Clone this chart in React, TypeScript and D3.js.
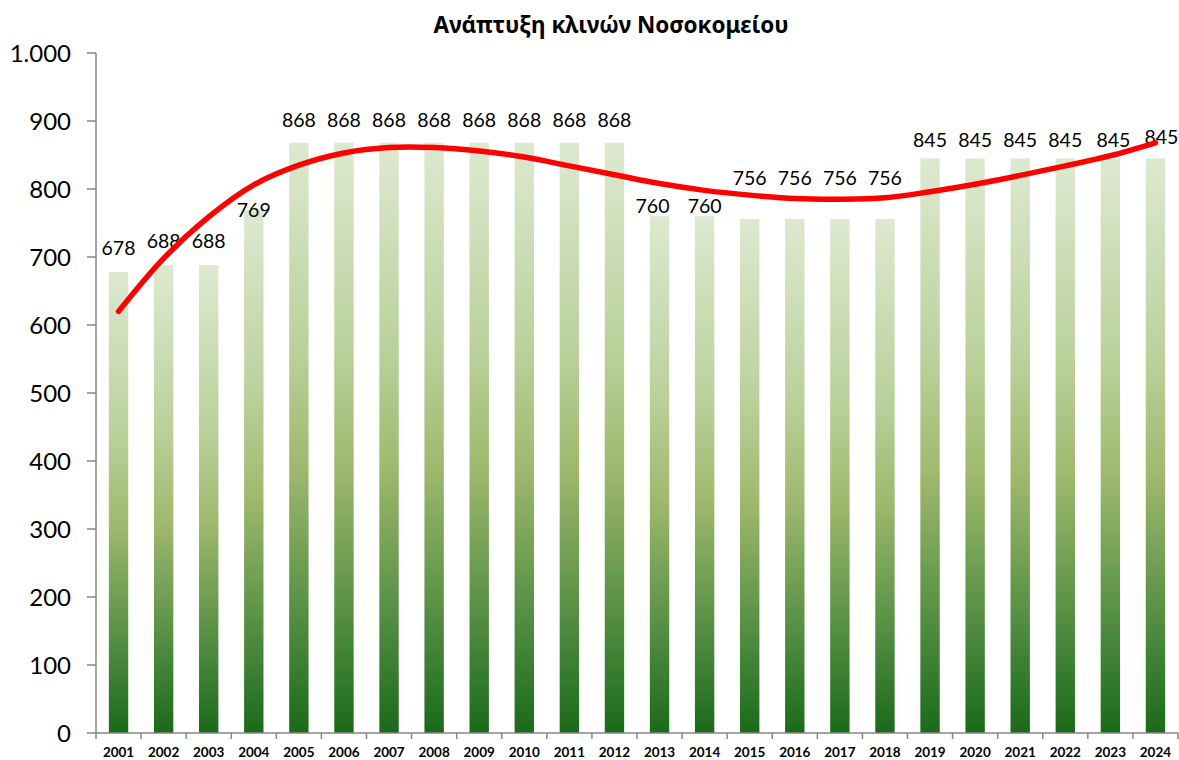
import * as d3 from "d3";

const years = ["2001","2002","2003","2004","2005","2006","2007","2008","2009","2010","2011","2012","2013","2014","2015","2016","2017","2018","2019","2020","2021","2022","2023","2024"];
const beds = [678,688,688,769,868,868,868,868,868,868,868,868,760,760,756,756,756,756,845,845,845,845,845,845];
// trendline values, one per year
const trend = [620,698,759,806,835,853,861,861,856,847,834,821,808,798,791,786,785,787,796,807,820,834,849,868];
const yTicks = [0,100,200,300,400,500,600,700,800,900,1000];
const title = "Ανάπτυξη κλινών Νοσοκομείου";

// data labels were nudged by hand in the original (px, baseline relative to bar top)
const labelDy = [-17,-17,-17,7,-16,-16,-16,-16,-16,-16,-16,-16,-3,-3,-34,-34,-34,-34,-11,-11,-11,-11,-11,-14];
const labelDx = [0,0,0,0,0,0,0,0,0,0,0,0,-7,0,0,0,0,0,0,0,0,0,3,6];

const width = 1179;
const height = 760;
const marginTop = 53;
const marginRight = 1;
const marginBottom = 27;
const marginLeft = 96;
const font = "Lato, 'Noto Sans', sans-serif";

const grLocale = d3.formatLocale({decimal: ",", thousands: ".", grouping: [3], currency: ["€", ""]});
const fmt = grLocale.format(",");

export default function App() {
  const x = d3.scaleBand(years, [marginLeft, width - marginRight]).paddingInner(0.57).paddingOuter(0.285);
  const y = d3.scaleLinear([0, 1000], [height - marginBottom, marginTop]);
  const step = x.step();
  const cx = (yr: string) => x(yr)! + x.bandwidth() / 2;

  const line = d3.line<number>((_, i) => cx(years[i]), v => y(v)).curve(d3.curveCatmullRom);
  const boundaries = d3.range(years.length + 1).map(i => marginLeft + i * step);

  return (
    <svg width={width} height={height} style={{position: "absolute", left: 0, top: 0, background: "#fff"}}>
      <defs>
        <linearGradient id="barGrad" x1="0" y1="0" x2="0" y2="1">
          <stop offset="0" stopColor="#dde9d0" />
          <stop offset="0.35" stopColor="#bad19b" />
          <stop offset="0.55" stopColor="#9fb96d" />
          <stop offset="0.78" stopColor="#5a9246" />
          <stop offset="1" stopColor="#1a6a1a" />
        </linearGradient>
      </defs>
      <text x={611} y={33} textAnchor="middle" fontFamily="'Noto Sans', sans-serif" fontWeight="bold" fontSize={22.5} fill="#000">{title}</text>

      {beds.map((v, i) => (
        <rect key={years[i]} x={x(years[i])} y={y(v)} width={x.bandwidth()} height={y(0) - y(v)} fill="url(#barGrad)" />
      ))}

      <g stroke="#868686" strokeWidth={1.5} fill="none">
        <line x1={marginLeft} x2={marginLeft} y1={y(1000)} y2={y(0)} />
        <line x1={marginLeft} x2={width - marginRight} y1={y(0)} y2={y(0)} />
        {yTicks.map(t => <line key={t} x1={marginLeft - 9} x2={marginLeft} y1={y(t)} y2={y(t)} />)}
        {boundaries.map((b, i) => <line key={i} x1={b} x2={b} y1={y(0)} y2={y(0) + 6} />)}
      </g>

      <g fontFamily={font} fontSize={24} fill="#000" textAnchor="end">
        {yTicks.map(t => <text key={t} x={71} y={y(t)} dy="0.36em">{fmt(t)}</text>)}
      </g>

      <g fontFamily={font} fontSize={13.5} fontWeight="bold" fill="#000" textAnchor="middle">
        {years.map(yr => <text key={yr} x={cx(yr)} y={757}>{yr}</text>)}
      </g>

      <g fontFamily={font} fontSize={19.5} fill="#000" textAnchor="middle">
        {beds.map((v, i) => <text key={years[i]} x={cx(years[i]) + labelDx[i]} y={y(v) + labelDy[i]}>{v}</text>)}
      </g>

      <path d={line(trend)!} fill="none" stroke="#ff0000" strokeWidth={5.5} strokeLinecap="round" />
    </svg>
  );
}
